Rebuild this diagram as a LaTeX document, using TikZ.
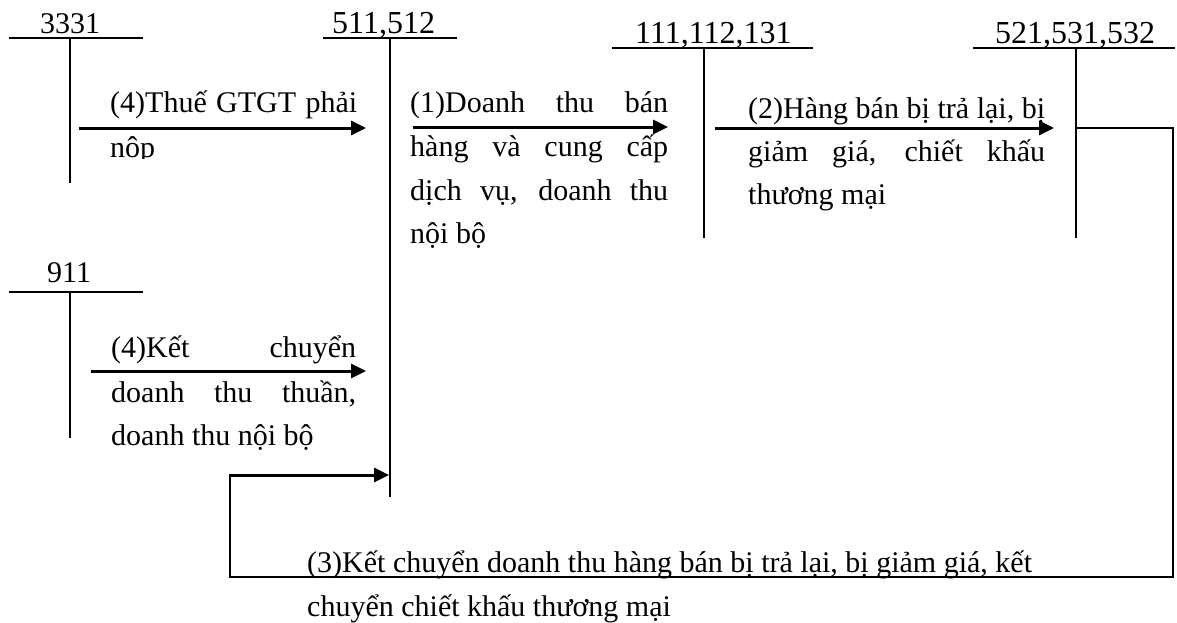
\documentclass[tikz,border=0pt]{standalone}
\usepackage{fontspec}
\setmainfont{Liberation Serif}
\usetikzlibrary{arrows.meta}
\begin{document}
\begin{tikzpicture}[x=1pt,y=-1pt,
  tline/.style={line width=2pt},
  arr/.style={line width=3pt,-{Triangle[length=15pt,width=14pt]}},
  loopline/.style={line width=2pt,line join=miter},
  lbl/.style={anchor=base west,inner sep=0pt,font=\fontsize{30}{36}\selectfont},
  hdr/.style={lbl,font=\fontsize{32}{38}\selectfont},
]
\fill[white] (0,0) rectangle (1177,622);
\useasboundingbox (0,0) rectangle (1177,622);

% T-account 3331
\coordinate (a1L) at (9,38);  \coordinate (a1R) at (143,38);
\coordinate (a1T) at (70,38); \coordinate (a1B) at (70,183);
\draw[tline] (a1L) -- (a1R); \draw[tline] (a1T) -- (a1B);
\node[lbl] (n3331) at (40,33) {3331};

% T-account 511,512
\coordinate (a2L) at (323,38);  \coordinate (a2R) at (457,38);
\coordinate (a2T) at (390,38);  \coordinate (a2B) at (390,497);
\draw[tline] (a2L) -- (a2R); \draw[tline] (a2T) -- (a2B);
\node[hdr] (n511) at (332,33) {511,512};

% T-account 111,112,131
\coordinate (a3L) at (612,48);  \coordinate (a3R) at (813,48);
\coordinate (a3T) at (704,48);  \coordinate (a3B) at (704,238);
\draw[tline] (a3L) -- (a3R); \draw[tline] (a3T) -- (a3B);
\node[hdr] (n111) at (635,43) {111,112,131};

% T-account 521,531,532
\coordinate (a4L) at (973,48);  \coordinate (a4R) at (1175,48);
\coordinate (a4T) at (1076,48); \coordinate (a4B) at (1076,238);
\draw[tline] (a4L) -- (a4R); \draw[tline] (a4T) -- (a4B);
\node[hdr] (n521) at (995,43) {521,531,532};

% T-account 911
\coordinate (a5L) at (9,292);  \coordinate (a5R) at (143,292);
\coordinate (a5T) at (70,292); \coordinate (a5B) at (70,438);
\draw[tline] (a5L) -- (a5R); \draw[tline] (a5T) -- (a5B);
\node[lbl] (n911) at (47,282) {911};

% arrows
\coordinate (r4s) at (79,128);  \coordinate (r4e) at (366,128);
\draw[arr] (r4s) -- (r4e);
\coordinate (r1s) at (413,127); \coordinate (r1e) at (668,127);
\draw[arr] (r1s) -- (r1e);
\coordinate (r2s) at (715,128); \coordinate (r2e) at (1054,128);
\draw[arr] (r2s) -- (r2e);
\coordinate (r5s) at (91,371);  \coordinate (r5e) at (366,371);
\draw[arr] (r5s) -- (r5e);

% loop (3)
\coordinate (p0) at (1076,128);
\coordinate (p1) at (1173,128);
\coordinate (p2) at (1173,577);
\coordinate (p3) at (230,577);
\coordinate (p4) at (230,475);
\coordinate (p5) at (389,475);
\draw[loopline] (p0) -- (p1) -- (p2) -- (p3) -- (p4) -- ([xshift=2pt]p4);
\draw[arr] ([xshift=-1pt]p4) -- (p5);

% texts
\node[lbl] (t4a) at (110,112) {\makebox[247pt][s]{(4)Thuế GTGT phải}};
\begin{scope}
\clip (100,135) rectangle (370,158);
\node[lbl] (t4b) at (110,157) {nộp};
\end{scope}

\node[lbl] (t1a) at (410,112) {\makebox[258pt][s]{(1)Doanh thu bán}};
\node[lbl] (t1b) at (410,156) {\makebox[258pt][s]{hàng và cung cấp}};
\node[lbl] (t1c) at (410,200) {\makebox[258pt][s]{dịch vụ, doanh thu}};
\node[lbl] (t1d) at (410,243) {nội bộ};

\node[lbl] (t2a) at (748,118) {\makebox[297pt][s]{(2)Hàng bán bị trả lại, bị}};
\node[lbl] (t2b) at (748,161) {\makebox[297pt][s]{giảm giá, chiết khấu}};
\node[lbl] (t2c) at (748,204) {thương mại};

\node[lbl] (t5a) at (111,357) {\makebox[245pt][s]{(4)Kết chuyển}};
\node[lbl] (t5b) at (111,402) {\makebox[245pt][s]{doanh thu thuần,}};
\node[lbl] (t5c) at (111,445) {doanh thu nội bộ};

\node[lbl] (t3a) at (307,572) {(3)Kết chuyển doanh thu hàng bán bị trả lại, bị giảm giá, kết};
\node[lbl] (t3b) at (307,616) {chuyển chiết khấu thương mại};
\end{tikzpicture}
\end{document}
